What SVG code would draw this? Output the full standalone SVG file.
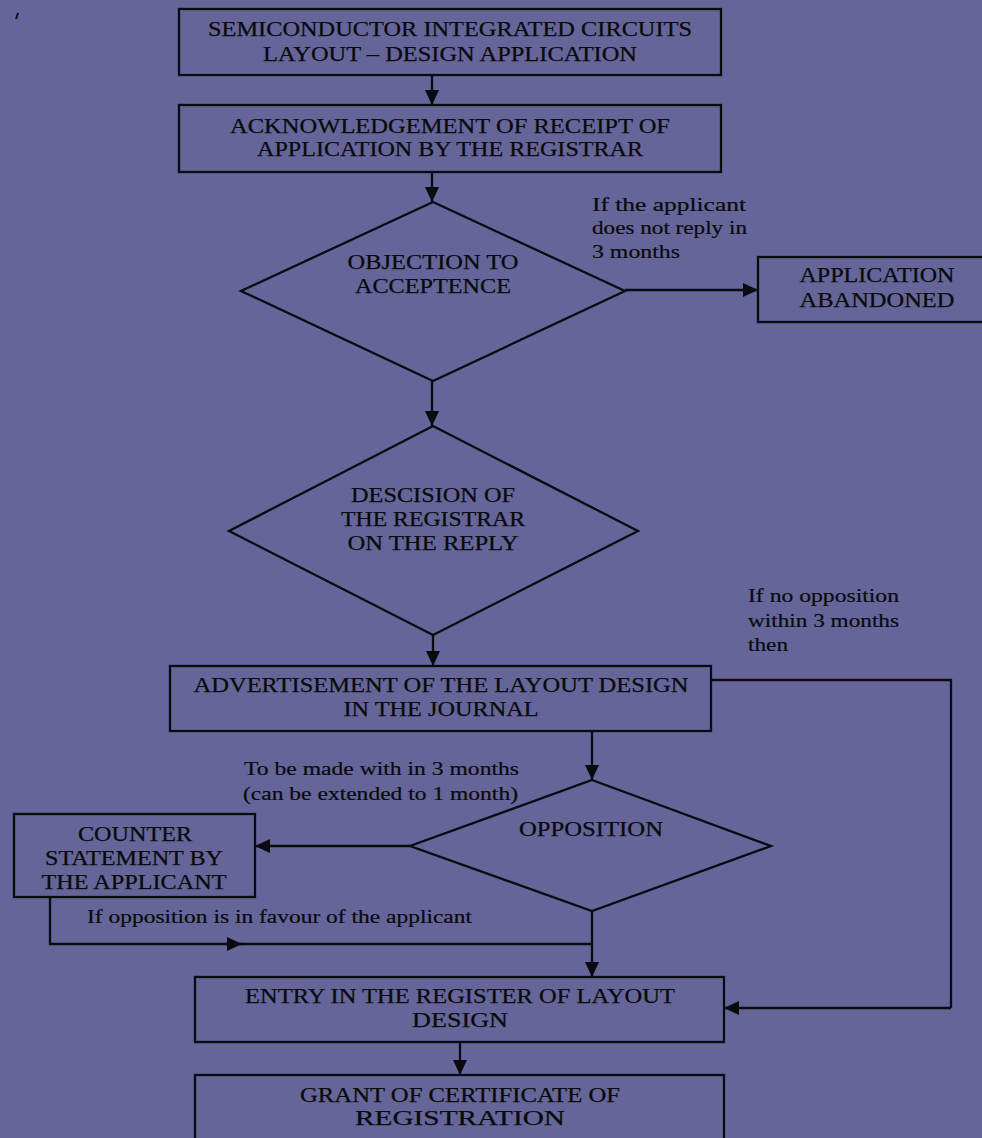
<svg xmlns="http://www.w3.org/2000/svg" width="982" height="1138" viewBox="0 0 982 1138">
<defs>
<style>
.bx{fill:none;stroke:#0a0a10;stroke-width:2.3}
.ln{fill:none;stroke:#0a0a10;stroke-width:2.3}
.t{font-family:"Liberation Serif","DejaVu Serif",serif;font-size:20px;fill:#0a0a0a;stroke:#0a0a0a;stroke-width:0.25;text-anchor:middle}
.l{font-family:"Liberation Serif","DejaVu Serif",serif;font-size:19px;fill:#0a0a0a;stroke:#0a0a0a;stroke-width:0.2}
</style>
<marker id="ah" markerUnits="userSpaceOnUse" markerWidth="16" markerHeight="16" viewBox="0 0 16 16" refX="15" refY="8" orient="auto">
<path d="M0,1 L15,8 L0,15 Z" fill="#0a0a10"/>
</marker>
</defs>
<rect width="982" height="1138" fill="#65659a"/>
<path d="M18,13 L16,19" stroke="#111" stroke-width="2"/>

<g id="connectors">
<line class="ln" x1="432" y1="75" x2="432" y2="105" marker-end="url(#ah)"/>
<line class="ln" x1="432" y1="172" x2="432" y2="202" marker-end="url(#ah)"/>
<line class="ln" x1="625" y1="290" x2="758" y2="290" marker-end="url(#ah)"/>
<line class="ln" x1="432" y1="381" x2="432" y2="426" marker-end="url(#ah)"/>
<line class="ln" x1="433" y1="635" x2="433" y2="666" marker-end="url(#ah)"/>
<polyline class="ln" points="711,680 951,680 951,1008"/>
<line class="ln" x1="951" y1="1008" x2="724" y2="1008" marker-end="url(#ah)"/>
<line class="ln" x1="592" y1="731" x2="592" y2="780" marker-end="url(#ah)"/>
<line class="ln" x1="410" y1="846" x2="255" y2="846" marker-end="url(#ah)"/>
<polyline class="ln" points="50,897 50,944 242,944"/>
<line class="ln" x1="226" y1="944" x2="242" y2="944" marker-end="url(#ah)"/>
<line class="ln" x1="242" y1="944" x2="592" y2="944"/>
<line class="ln" x1="592" y1="911" x2="592" y2="977" marker-end="url(#ah)"/>
<line class="ln" x1="460" y1="1042" x2="460" y2="1075" marker-end="url(#ah)"/>
</g>

<g id="n1">
<rect class="bx" x="179" y="9" width="542" height="66"/>
<text class="t" x="450" y="36" textLength="484" lengthAdjust="spacingAndGlyphs">SEMICONDUCTOR INTEGRATED CIRCUITS</text>
<text class="t" x="450" y="61" textLength="374" lengthAdjust="spacingAndGlyphs">LAYOUT – DESIGN APPLICATION</text>
</g>
<g id="n2">
<rect class="bx" x="179" y="105" width="542" height="67"/>
<text class="t" x="450" y="133" textLength="440" lengthAdjust="spacingAndGlyphs">ACKNOWLEDGEMENT OF RECEIPT OF</text>
<text class="t" x="450" y="156" textLength="386" lengthAdjust="spacingAndGlyphs">APPLICATION BY THE REGISTRAR</text>
</g>
<g id="n3">
<polygon class="bx" points="433,202 625,291 433,381 241,291"/>
<text class="t" x="433" y="269" textLength="171" lengthAdjust="spacingAndGlyphs">OBJECTION TO</text>
<text class="t" x="433" y="293" textLength="156" lengthAdjust="spacingAndGlyphs">ACCEPTENCE</text>
</g>
<g id="lbl1">
<text class="l" x="592" y="211" textLength="154" lengthAdjust="spacingAndGlyphs">If the applicant</text>
<text class="l" x="592" y="234" textLength="155" lengthAdjust="spacingAndGlyphs">does not reply in</text>
<text class="l" x="592" y="258" textLength="88" lengthAdjust="spacingAndGlyphs">3 months</text>
</g>
<g id="n4">
<rect class="bx" x="758" y="257" width="226" height="65"/>
<text class="t" x="877" y="282" textLength="155" lengthAdjust="spacingAndGlyphs">APPLICATION</text>
<text class="t" x="877" y="307" textLength="155" lengthAdjust="spacingAndGlyphs">ABANDONED</text>
</g>
<g id="n5">
<polygon class="bx" points="433,426 638,531 433,635 229,531"/>
<text class="t" x="433" y="502" textLength="164" lengthAdjust="spacingAndGlyphs">DESCISION OF</text>
<text class="t" x="433" y="526" textLength="184" lengthAdjust="spacingAndGlyphs">THE REGISTRAR</text>
<text class="t" x="433" y="550" textLength="171" lengthAdjust="spacingAndGlyphs">ON THE REPLY</text>
</g>
<g id="lbl2">
<text class="l" x="748" y="602" textLength="151" lengthAdjust="spacingAndGlyphs">If no opposition</text>
<text class="l" x="748" y="627" textLength="151" lengthAdjust="spacingAndGlyphs">within 3 months</text>
<text class="l" x="748" y="651" textLength="40" lengthAdjust="spacingAndGlyphs">then</text>
</g>
<g id="n6">
<rect class="bx" x="170" y="666" width="541" height="65"/>
<text class="t" x="441" y="692" textLength="495" lengthAdjust="spacingAndGlyphs">ADVERTISEMENT OF THE LAYOUT DESIGN</text>
<text class="t" x="441" y="716" textLength="195" lengthAdjust="spacingAndGlyphs">IN THE JOURNAL</text>
</g>
<g id="lbl3">
<text class="l" x="244" y="775" textLength="275" lengthAdjust="spacingAndGlyphs">To be made with in 3 months</text>
<text class="l" x="243" y="800" textLength="275" lengthAdjust="spacingAndGlyphs">(can be extended to 1 month)</text>
</g>
<g id="n7">
<polygon class="bx" points="592,780 771,846 592,911 410,846"/>
<text class="t" x="591" y="836" textLength="144" lengthAdjust="spacingAndGlyphs">OPPOSITION</text>
</g>
<g id="n8">
<rect class="bx" x="14" y="814" width="241" height="83"/>
<text class="t" x="135" y="841" textLength="114" lengthAdjust="spacingAndGlyphs">COUNTER</text>
<text class="t" x="134" y="865" textLength="178" lengthAdjust="spacingAndGlyphs">STATEMENT BY</text>
<text class="t" x="134" y="889" textLength="185" lengthAdjust="spacingAndGlyphs">THE APPLICANT</text>
</g>
<g id="lbl4">
<text class="l" x="87" y="923" textLength="385" lengthAdjust="spacingAndGlyphs">If opposition is in favour of the applicant</text>
</g>
<g id="n9">
<rect class="bx" x="195" y="977" width="529" height="65"/>
<text class="t" x="460" y="1003" textLength="430" lengthAdjust="spacingAndGlyphs">ENTRY IN THE REGISTER OF LAYOUT</text>
<text class="t" x="460" y="1027" textLength="96" lengthAdjust="spacingAndGlyphs">DESIGN</text>
</g>
<g id="n10">
<rect class="bx" x="195" y="1075" width="529" height="70"/>
<text class="t" x="460" y="1102" textLength="320" lengthAdjust="spacingAndGlyphs">GRANT OF CERTIFICATE OF</text>
<text class="t" x="460" y="1125" textLength="210" lengthAdjust="spacingAndGlyphs">REGISTRATION</text>
</g>
</svg>
